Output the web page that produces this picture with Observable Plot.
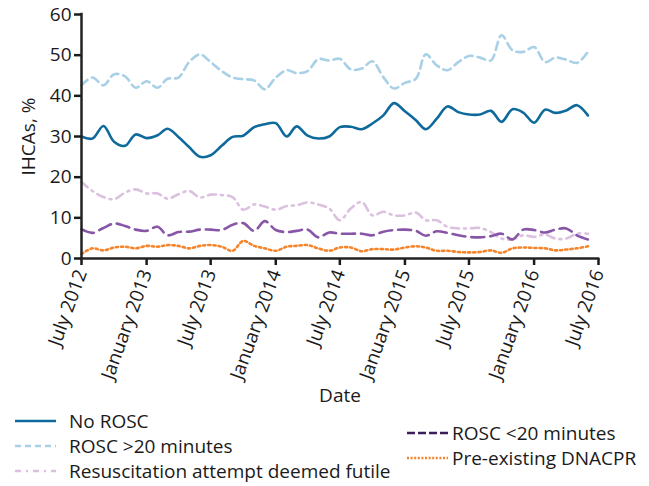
<!DOCTYPE html>
<html><head><meta charset="utf-8">
<script src="https://cdn.jsdelivr.net/npm/d3@7"></script>
<script src="https://cdn.jsdelivr.net/npm/@observablehq/plot@0.6"></script>
<style>
body{margin:0;background:#fff;font-family:"Open Sans",sans-serif;}
#wrap{position:relative;width:649px;height:486px;overflow:hidden;}
.leg{position:absolute;display:flex;align-items:center;height:24px;font-size:19px;color:#1a1a1a;white-space:nowrap;}
.leg svg{flex:none;}
</style></head><body><div id="wrap"><div id="chart"></div></div>
<script>
// Monthly data, July 2012 - June 2016 (percent of IHCAs)
const startMonth = "2012-07-01";
const nMonths = 48;
const noRosc = [30.0,29.5,32.6,28.7,27.7,30.5,29.6,30.3,31.9,29.9,27.4,25.0,25.4,27.7,29.9,30.2,32.3,33.0,33.3,30.0,32.5,30.2,29.5,30.0,32.3,32.4,31.8,33.2,35.2,38.2,36.2,34.0,31.8,34.4,37.4,36.0,35.4,35.4,36.3,33.6,36.7,35.9,33.4,36.6,35.8,36.4,37.7,35.2];
const roscOver20 = [42.6,44.5,42.6,45.3,44.8,42.0,43.6,42.0,44.2,44.5,48.3,50.2,48.3,46.1,44.5,44.1,43.8,41.6,44.5,46.3,45.6,46.1,49.0,48.7,49.1,46.5,46.7,48.5,44.6,41.8,43.2,44.2,50.2,47.5,46.3,48.3,49.8,49.4,48.7,54.9,51.2,50.8,52.0,48.3,49.4,48.9,48.1,50.8];
const futile = [18.8,16.6,15.1,14.6,16.2,17.0,16.0,16.0,14.7,15.8,16.6,15.0,15.7,15.6,15.1,12.0,13.3,12.8,12.0,12.9,13.1,13.8,13.3,12.3,9.4,12.3,13.9,10.6,11.5,10.6,10.6,11.3,9.4,9.4,7.8,7.4,7.4,7.5,6.5,4.9,4.7,5.7,5.3,5.9,4.9,4.9,6.1,6.1];
const roscUnder20 = [7.2,6.3,7.5,8.6,8.0,7.1,6.8,7.8,5.7,6.5,6.6,7.1,7.1,7.0,8.3,8.7,6.8,9.2,7.0,6.5,6.8,7.1,5.2,6.4,6.1,6.1,6.1,5.7,6.6,7.0,7.1,6.8,5.6,6.7,6.3,5.7,5.3,5.2,5.5,6.1,4.7,7.1,7.0,6.4,7.1,7.4,5.7,4.7];
const dnacpr = [1.1,2.5,2.0,2.7,2.9,2.5,3.1,2.9,3.3,3.1,2.5,3.1,3.3,2.9,1.9,4.3,3.1,2.5,1.9,2.9,3.1,3.3,2.5,1.9,2.7,2.7,1.8,2.3,2.3,2.2,2.7,3.0,2.7,1.9,1.9,1.6,1.5,1.6,2.0,1.4,2.5,2.7,2.6,2.5,2.0,2.2,2.5,3.0];

const xTickDates = ["2012-07-01","2013-01-01","2013-07-01","2014-01-01","2014-07-01","2015-01-01","2015-07-01","2016-01-01","2016-07-01"];
const xTickLabels = ["July 2012","January 2013","July 2013","January 2014","July 2014","January 2015","July 2015","January 2016","July 2016"];
const yTicks = [0,10,20,30,40,50,60];

const seriesNames = ["No ROSC","ROSC >20 minutes","Resuscitation attempt deemed futile","ROSC <20 minutes","Pre-existing DNACPR"];
const seriesValues = [noRosc, roscOver20, futile, roscUnder20, dnacpr];
const seriesColors = ["#0f6a9c","#a8d0e6","#dcc0df","#8856a7","#f5842a"];
const seriesDash = [null,"8,5","8,5,2,5","13,6","2.2,3"];
const legendColors = ["#0f6a9c","#a8d0e6","#dcc0df","#3c1c5a","#f5842a"];
const legendDash = [null,"6,4","6,5,2,5","8,3","2,1.6"];

const months = d3.utcMonth.range(new Date(startMonth), d3.utcMonth.offset(new Date(startMonth), nMonths));
const tickDates = xTickDates.map(s => new Date(s));
const labelOf = d => xTickLabels[tickDates.findIndex(t => +t === +d)];

const lineMarks = seriesValues.map((vals, k) => Plot.lineY(vals, {
  x: (d, i) => months[i], y: d => d,
  stroke: seriesColors[k], strokeWidth: 2.6,
  strokeDasharray: seriesDash[k] ?? undefined,
  curve: "catmull-rom"
}));

const chart = Plot.plot({
  width: 649, height: 410,
  marginLeft: 81, marginRight: 51, marginTop: 14, marginBottom: 152,
  style: {fontFamily: "Open Sans", fontSize: "19px", color: "#1a1a1a", background: "#fff"},
  x: {type: "utc", domain: [new Date("2012-07-01"), new Date("2016-07-01")]},
  y: {domain: [0, 60]},
  marks: [
    ...lineMarks,
    Plot.axisY({ticks: yTicks, tickSize: 7, tickPadding: 3, strokeWidth: 2.5, label: null, fontSize: 19}),
    Plot.axisX({ticks: tickDates, tickFormat: labelOf, tickRotate: -70, tickSize: 7, tickPadding: 5, strokeWidth: 2.5, label: null, fontSize: 19}),
    Plot.ruleY([0], {stroke: "#222", strokeWidth: 2.5, strokeLinecap: "square"}),
    Plot.ruleX([new Date("2012-07-01")], {y1: 0, y2: 60, stroke: "#222", strokeWidth: 2.5, strokeLinecap: "square"}),
    Plot.text(["IHCAs, %"], {frameAnchor: "left", textAnchor: "middle", dx: -53, rotate: -90, fontSize: 19, fill: "#1a1a1a"}),
    Plot.text(["Date"], {frameAnchor: "bottom", dy: 143, fontSize: 19, fill: "#1a1a1a"})
  ]
});
const wrap = document.getElementById("wrap");
document.getElementById("chart").appendChild(chart);

// Legend (HTML, below the SVG)
const legendPos = [
  {left: 15, cy: 421, gap: 13}, {left: 15, cy: 446, gap: 13}, {left: 15, cy: 471, gap: 13},
  {left: 407, cy: 433, gap: 4}, {left: 407, cy: 458, gap: 4}
];
seriesNames.forEach((name, k) => {
  const p = legendPos[k];
  const div = document.createElement("div");
  div.className = "leg";
  div.style.left = p.left + "px";
  div.style.top = (p.cy - 12) + "px";
  const dash = legendDash[k] ? ` stroke-dasharray="${legendDash[k]}"` : "";
  div.innerHTML = `<svg width="41" height="10"><line x1="0" y1="5" x2="41" y2="5" stroke="${legendColors[k]}" stroke-width="2.6"${dash}/></svg><span style="margin-left:${p.gap}px">${name}</span>`;
  wrap.appendChild(div);
});
</script></body></html>
